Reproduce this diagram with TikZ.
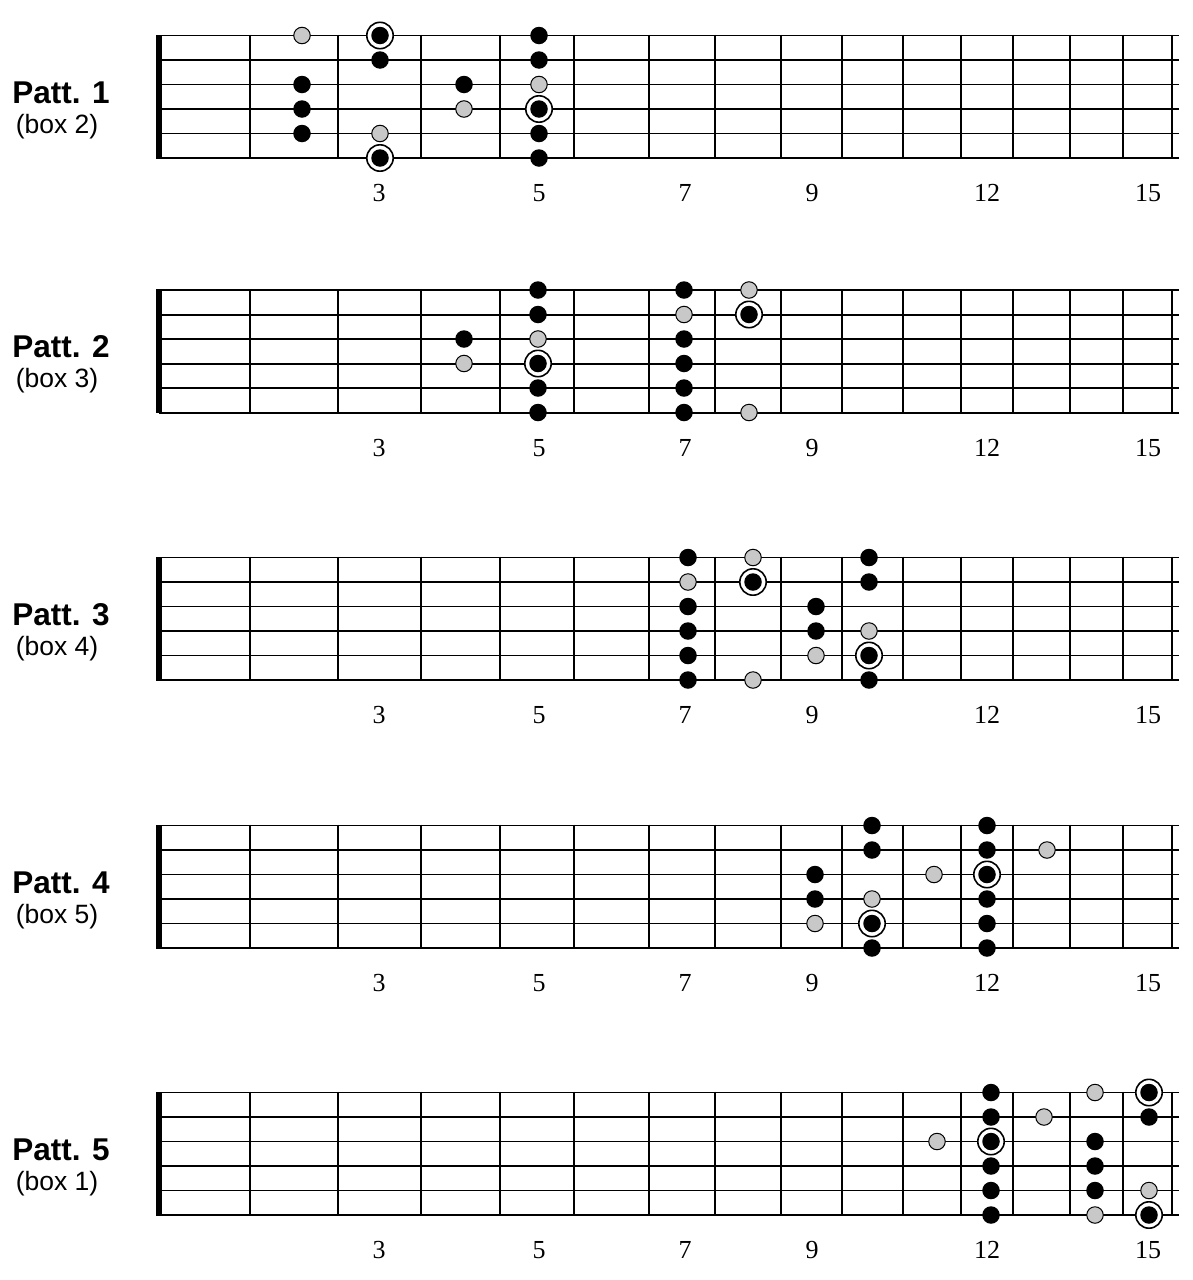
\documentclass[tikz,border=0pt]{standalone}
\usepackage{fontspec}
\setmainfont{Liberation Serif}
\newfontfamily\hvfont{Liberation Sans}
\definecolor{dotgray}{RGB}{200,200,200}
\tikzset{
  dotb/.style={circle,fill=black,inner sep=0pt,minimum size=17.5pt},
  dotg/.style={circle,fill=dotgray,draw=black,line width=1pt,inner sep=0pt,minimum size=16.5pt},
  rootring/.style={circle,fill=white,draw=black,line width=1.6pt,inner sep=0pt,minimum size=26.4pt},
  stringthin/.style={line width=1.2pt},
  stringthick/.style={line width=2pt},
  fretline/.style={line width=2.4pt},
  nutbar/.style={fill=black},
  fretnum/.style={font=\fontsize{26}{26}\selectfont,inner sep=0pt,anchor=base},
  pattlabel/.style={font=\hvfont\bfseries\fontsize{31.5}{31.5}\selectfont,inner sep=0pt,anchor=base},
  boxlabel/.style={font=\hvfont\fontsize{26.5}{26.5}\selectfont,inner sep=0pt,anchor=base},
}
\def\rr{r}
\newcommand\drawpanel[4]{%
  % strings
  \foreach \s in {1,...,6}{
    \pgfmathsetmacro\yy{#2+24.5*(\s-1)}
    \coordinate (p#1sL\s) at (159,\yy);
    \coordinate (p#1sR\s) at (1179,\yy);
  }
  \draw[stringthin] (p#1sL1) -- (p#1sR1);
  \draw[stringthick] (p#1sL2) -- (p#1sR2);
  \draw[stringthin] (p#1sL3) -- (p#1sR3);
  \draw[stringthick] (p#1sL4) -- (p#1sR4);
  \draw[stringthin] (p#1sL5) -- (p#1sR5);
  \draw[stringthick] (p#1sL6) -- (p#1sR6);
  % frets
  \foreach \f in {250,338,421,500,574,649,715,781,842,903,961,1013,1070,1123,1172}{
    \coordinate (p#1fT\f) at (\f,#2-0.8);
    \coordinate (p#1fB\f) at (\f,#2+123.3);
    \draw[fretline] (p#1fT\f) -- (p#1fB\f);
  }
  % nut
  \coordinate (p#1nA) at (156,#2-0.8);
  \coordinate (p#1nB) at (162,#2+123.3);
  \fill[nutbar] (p#1nA) rectangle (p#1nB);
  % fret numbers
  \foreach \x/\n in {379/3,539/5,685/7,812/9,987/12,1148/15}{
    \node[fretnum] (p#1num\n) at (\x,#2+166) {\n};
  }
  % labels
  \node[pattlabel] (p#1patt) at (61,#2+67.5) {Patt. #1};
  \node[boxlabel] (p#1box) at (57,#2+97.5) {(box #3)};
  % dots
  \foreach \x/\s/\t in {#4}{
    \pgfmathsetmacro\yy{#2+24.5*(\s-1)}
    \ifx\t\rr
      \node[rootring] (p#1r\x s\s) at (\x,\yy) {};
      \node[dotb] (p#1d\x s\s) at (\x,\yy) {};
    \else
      \node[dot\t] (p#1d\x s\s) at (\x,\yy) {};
    \fi
  }
}
\begin{document}
\begin{tikzpicture}[x=1pt,y=-1pt]
\useasboundingbox (0,0) rectangle (1192,1280);
\drawpanel{1}{35.5}{2}{302/1/g,302/3/b,302/4/b,302/5/b,380/1/r,380/2/b,380/5/g,380/6/r,464/3/b,464/4/g,539/1/b,539/2/b,539/3/g,539/4/r,539/5/b,539/6/b}
\drawpanel{2}{290}{3}{464/3/b,464/4/g,538/1/b,538/2/b,538/3/g,538/4/r,538/5/b,538/6/b,684/1/b,684/2/g,684/3/b,684/4/b,684/5/b,684/6/b,749/1/g,749/2/r,749/6/g}
\drawpanel{3}{557.5}{4}{688/1/b,688/2/g,688/3/b,688/4/b,688/5/b,688/6/b,753/1/g,753/2/r,753/6/g,816/3/b,816/4/b,816/5/g,869/1/b,869/2/b,869/4/g,869/5/r,869/6/b}
\drawpanel{4}{825.5}{5}{815/3/b,815/4/b,815/5/g,872/1/b,872/2/b,872/4/g,872/5/r,872/6/b,934/3/g,987/1/b,987/2/b,987/3/r,987/4/b,987/5/b,987/6/b,1047/2/g}
\drawpanel{5}{1092.5}{1}{937/3/g,991/1/b,991/2/b,991/3/r,991/4/b,991/5/b,991/6/b,1044/2/g,1095/1/g,1095/3/b,1095/4/b,1095/5/b,1095/6/g,1149/1/r,1149/2/b,1149/5/g,1149/6/r}
\end{tikzpicture}
\end{document}
